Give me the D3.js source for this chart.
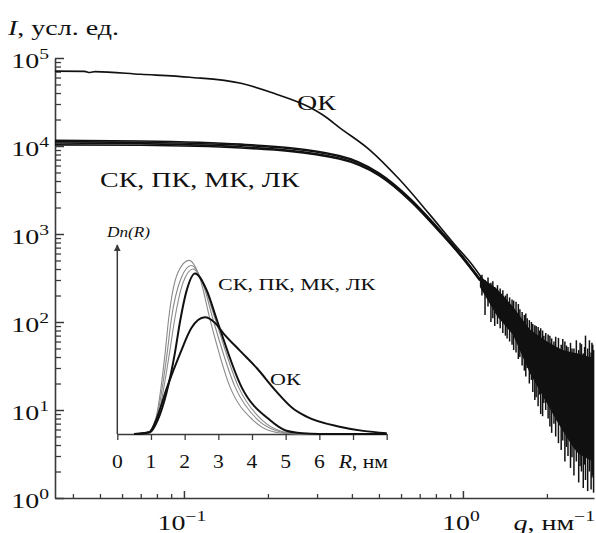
<!DOCTYPE html>
<html>
<head>
<meta charset="utf-8">
<script src="https://cdn.jsdelivr.net/npm/d3@7"></script>
<style>
  html, body { margin: 0; padding: 0; background: #fff; }
  svg { display: block; font-family: "Liberation Serif", "Times New Roman", serif; }
</style>
</head>
<body>
<svg id="chart" width="596" height="533"></svg>
<script>
// ---- main plot: I(q), log-log ----
const curveOK = [
  [0.0345, 71000], [0.044, 70500], [0.046, 68300], [0.048, 70000], [0.07, 65300],
  [0.105, 60400], [0.16, 51600], [0.21, 39700], [0.28, 27900], [0.315, 22500],
  [0.363, 16000], [0.464, 9000], [0.595, 4100], [0.762, 1650], [0.937, 750],
  [1.06, 480], [1.2, 280]
];
const curveSK = [[0.0345, 11200], [0.07, 11000], [0.16, 10200], [0.36, 7600], [0.5, 4850], [0.646, 2500], [0.83, 1080], [0.98, 590], [1.15, 310]];
const curvePK = [[0.0345, 10800], [0.07, 10600], [0.16, 9800], [0.36, 7300], [0.5, 4700], [0.646, 2430], [0.83, 1050], [0.98, 575], [1.15, 300]];
const curveMK = [[0.0345, 10300], [0.07, 10200], [0.16, 9500], [0.36, 7100], [0.5, 4600], [0.646, 2380], [0.83, 1030], [0.98, 565], [1.15, 295]];
const curveLK = [[0.0345, 11600], [0.07, 11400], [0.16, 10500], [0.36, 7800], [0.5, 4950], [0.646, 2550], [0.83, 1100], [0.98, 600], [1.15, 305]];

// noisy high-q tail: envelope [q, upper, lower] and single spikes [q, lower, upper]
const noiseBand = [
  [1.15, 330, 250], [1.33, 235, 115], [1.51, 150, 72], [1.74, 82, 26], [1.97, 62, 13],
  [2.17, 52, 7.5], [2.28, 48, 5.8], [2.48, 45, 3.8], [2.59, 44, 3.2], [2.85, 40, 2.7], [2.95, 40, 2.6]
];
const noiseSpikes = [
  [1.17, 200, 345], [1.20, 120, 300], [1.23, 150, 320], [1.26, 100, 280], [1.28, 110, 290],
  [1.30, 90, 250], [1.33, 95, 262], [1.36, 85, 240], [1.39, 75, 230], [1.42, 70, 200],
  [1.44, 65, 210], [1.47, 60, 190], [1.50, 55, 180], [1.52, 48, 175], [1.55, 45, 170],
  [1.58, 38, 160], [1.60, 40, 140], [1.63, 32, 130], [1.66, 28, 120], [1.68, 24, 125],
  [1.70, 30, 110], [1.73, 20, 105], [1.76, 22, 100], [1.78, 16, 95], [1.81, 13, 92],
  [1.83, 14, 90], [1.86, 11, 88], [1.88, 15, 80], [1.90, 9, 85], [1.93, 8.5, 80],
  [1.95, 12, 70], [1.98, 10, 75], [2.02, 8, 72], [2.05, 6.5, 70], [2.08, 5.5, 65],
  [2.12, 7, 60], [2.15, 5, 68], [2.20, 4.2, 66], [2.25, 3.5, 55], [2.28, 4.5, 64],
  [2.32, 2.6, 60], [2.35, 3.8, 54], [2.38, 3.0, 52], [2.43, 2.2, 58], [2.46, 2.9, 50],
  [2.50, 1.8, 50], [2.55, 2.6, 62], [2.60, 1.5, 48], [2.63, 2.3, 58], [2.66, 2.0, 56],
  [2.70, 1.3, 44], [2.73, 2.4, 52], [2.75, 1.6, 70], [2.80, 1.2, 50], [2.84, 2.0, 62],
  [2.88, 1.25, 45], [2.90, 1.7, 58], [2.92, 1.8, 55], [2.94, 1.15, 48]
];

const yMajor = [1, 10, 100, 1000, 10000, 100000];
const yExp = ['0', '1', '2', '3', '4', '5'];
const xMajor = [0.1, 1];
const xExp = ['\u22121', '0'];

// ---- inset: Dn(R) ----
const distGray1 = [[0.5, 0], [0.9, 0.01], [1.13, 0.08], [1.42, 0.466], [1.52, 0.655], [1.8, 0.93], [2.13, 1.0], [2.45, 0.9], [2.76, 0.655], [3.35, 0.27], [4.03, 0.08], [4.5, 0.02], [5.0, 0.003], [6.0, 0], [8, 0]];
const distGray2 = [[0.5, 0], [0.92, 0.01], [1.15, 0.08], [1.48, 0.466], [1.6, 0.655], [1.9, 0.9], [2.2, 0.97], [2.55, 0.86], [2.85, 0.655], [3.5, 0.27], [4.18, 0.08], [4.7, 0.02], [5.2, 0.002], [6.0, 0], [8, 0]];
const distGray3 = [[0.5, 0], [0.95, 0.01], [1.18, 0.08], [1.55, 0.466], [1.7, 0.655], [1.95, 0.87], [2.25, 0.95], [2.6, 0.84], [2.92, 0.655], [3.6, 0.27], [4.3, 0.08], [4.8, 0.02], [5.3, 0.002], [6.0, 0], [8, 0]];
const distSK = [[0.5, 0], [0.97, 0.01], [1.2, 0.08], [1.71, 0.466], [1.87, 0.655], [2.05, 0.82], [2.31, 0.925], [2.65, 0.83], [2.96, 0.655], [3.69, 0.27], [4.53, 0.08], [5.0, 0.02], [5.5, 0.004], [6.0, 0], [8, 0]];
const distOK = [[0.5, 0], [0.95, 0.01], [1.15, 0.08], [1.48, 0.27], [1.87, 0.466], [2.2, 0.61], [2.6, 0.672], [2.9, 0.64], [3.15, 0.58], [3.64, 0.48], [4.14, 0.38], [4.7, 0.25], [5.2, 0.15], [5.62, 0.1], [6.6, 0.042], [7.3, 0.018], [8, 0.005]];
const insetTicks = [0, 1, 2, 3, 4, 5, 6, 7, 8];
const insetTickLabels = ['0', '1', '2', '3', '4', '5', '6', '', ''];

const INK = '#111';
const AXIS = '#3a3a3a';
const SX = 1.4; // glyphs in the source are stretched horizontally

const svg = d3.select('#chart');

const x = d3.scaleLog().domain([0.0345, 2.95]).range([55, 594]);
const y = d3.scaleLog().domain([1, 1e5]).range([498, 58]);

// text helper: text placed at (px,py), stretched horizontally
function label(px, py, anchor, size, sx) {
  return svg.append('g')
    .attr('transform', `translate(${px},${py}) scale(${sx},1)`)
    .append('text')
    .attr('text-anchor', anchor)
    .attr('font-size', size)
    .attr('fill', INK);
}

function powerLabel(px, py, anchor, exp) {
  const t = label(px, py, anchor, 20, SX);
  t.append('tspan').text('10');
  t.append('tspan').attr('dy', -9).attr('font-size', 14).text(exp);
}

// ---- axes (ticks inside) ----
const yMinor = y.ticks().filter(v => !yMajor.includes(v));
svg.append('g')
  .attr('transform', `translate(${x.range()[0]},0)`)
  .call(d3.axisRight(y).tickValues(yMinor).tickSize(6).tickSizeOuter(0).tickFormat(''))
  .call(g => g.selectAll('line').attr('stroke', AXIS).attr('stroke-width', 1.3))
  .call(g => g.select('.domain').attr('stroke', AXIS).attr('stroke-width', 1.6));
svg.append('g')
  .attr('transform', `translate(${x.range()[0]},0)`)
  .call(d3.axisRight(y).tickValues(yMajor).tickSize(9).tickSizeOuter(0).tickFormat(''))
  .call(g => g.selectAll('line').attr('stroke', AXIS).attr('stroke-width', 1.5))
  .call(g => g.select('.domain').remove());

const xMinor = x.ticks().filter(v => !xMajor.some(m => Math.abs(m - v) < 1e-9));
svg.append('g')
  .attr('transform', `translate(0,${y.range()[0]})`)
  .call(d3.axisTop(x).tickValues(xMinor).tickSize(4).tickSizeOuter(0).tickFormat(''))
  .call(g => g.selectAll('line').attr('stroke', AXIS).attr('stroke-width', 1.3))
  .call(g => g.select('.domain').attr('stroke', AXIS).attr('stroke-width', 1.6));
svg.append('g')
  .attr('transform', `translate(0,${y.range()[0]})`)
  .call(d3.axisTop(x).tickValues(xMajor).tickSize(7).tickSizeOuter(0).tickFormat(''))
  .call(g => g.selectAll('line').attr('stroke', AXIS).attr('stroke-width', 1.5))
  .call(g => g.select('.domain').remove());

yMajor.forEach((v, i) => powerLabel(49, y(v) + 10, 'end', yExp[i]));
xMajor.forEach((v, i) => powerLabel(x(v) - 2, 530, 'middle', xExp[i]));

// axis titles
const yTitle = label(8, 35, 'start', 20, SX);
yTitle.append('tspan').attr('font-style', 'italic').text('I');
yTitle.append('tspan').text(', усл. ед.');

const xTitle = label(595, 530, 'end', 20, SX);
xTitle.append('tspan').attr('font-style', 'italic').text('q');
xTitle.append('tspan').text(', нм');
xTitle.append('tspan').attr('dy', -9).attr('font-size', 14).text('\u22121');

// ---- main curves ----
const line = d3.line().x(d => x(d[0])).y(d => y(d[1])).curve(d3.curveMonotoneX);

[curveSK, curvePK, curveMK, curveLK, curveOK].forEach(c => {
  svg.append('path')
    .datum(c)
    .attr('d', line)
    .attr('fill', 'none')
    .attr('stroke', INK)
    .attr('stroke-width', 1.6);
});

svg.append('path')
  .datum(noiseBand)
  .attr('d', d3.area().x(d => x(d[0])).y0(d => y(d[2])).y1(d => y(d[1])).curve(d3.curveLinear))
  .attr('fill', INK);

svg.append('g').selectAll('line')
  .data(noiseSpikes)
  .join('line')
  .attr('x1', d => x(d[0])).attr('x2', d => x(d[0]))
  .attr('y1', d => y(d[1])).attr('y2', d => y(d[2]))
  .attr('stroke', INK)
  .attr('stroke-width', 1.5);

label(297, 110, 'start', 20, SX).text('ОК');
label(100, 187, 'start', 20, SX).text('СК, ПК, МК, ЛК');

// ---- inset ----
const rx = d3.scaleLinear().domain([0, 8]).range([117.3, 386.7]);
const ry = d3.scaleLinear().domain([0, 1.1]).range([434, 243]);

svg.append('g')
  .attr('transform', `translate(0,${ry(0)})`)
  .call(d3.axisBottom(rx).tickValues(insetTicks).tickSize(6).tickSizeOuter(0).tickFormat(''))
  .call(g => g.selectAll('line').attr('stroke', AXIS).attr('stroke-width', 1.3))
  .call(g => g.select('.domain').attr('stroke', AXIS).attr('stroke-width', 1.5));

insetTicks.forEach((v, i) => {
  if (insetTickLabels[i]) label(rx(v), 468, 'middle', 18, 1.2).text(insetTickLabels[i]);
});
const rTitle = label(388, 468, 'end', 18, 1.2);
rTitle.append('tspan').attr('font-style', 'italic').text('R');
rTitle.append('tspan').text(', нм');

svg.append('defs').append('marker')
  .attr('id', 'arrow')
  .attr('viewBox', '0 0 10 10')
  .attr('refX', 9).attr('refY', 5)
  .attr('markerWidth', 7).attr('markerHeight', 9)
  .attr('markerUnits', 'userSpaceOnUse')
  .attr('orient', 'auto')
  .append('path').attr('d', 'M0,0L10,5L0,10Z').attr('fill', AXIS);

svg.append('line')
  .attr('x1', rx(0)).attr('x2', rx(0))
  .attr('y1', ry(0)).attr('y2', ry(1.1) + 2)
  .attr('stroke', AXIS).attr('stroke-width', 1.5)
  .attr('marker-end', 'url(#arrow)');

const dn = label(107, 237, 'start', 15, 1.15).attr('font-style', 'italic');
dn.text('Dn(R)');

const dline = d3.line().x(d => rx(d[0])).y(d => ry(d[1])).curve(d3.curveMonotoneX);
[distGray1, distGray2, distGray3].forEach(c => {
  svg.append('path').datum(c).attr('d', dline)
    .attr('fill', 'none').attr('stroke', '#8a8a8a').attr('stroke-width', 1.1);
});
[distSK, distOK].forEach(c => {
  svg.append('path').datum(c).attr('d', dline)
    .attr('fill', 'none').attr('stroke', INK).attr('stroke-width', 2);
});

label(218, 290, 'start', 17, 1.3).text('СК, ПК, МК, ЛК');
label(270, 385, 'start', 17, 1.3).text('ОК');
</script>
</body>
</html>
